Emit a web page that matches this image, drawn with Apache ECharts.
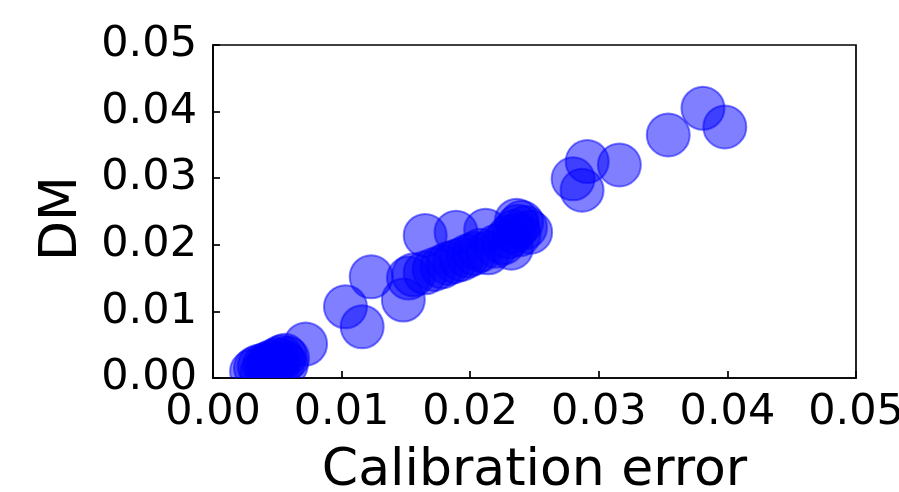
<!DOCTYPE html>
<html>
<head>
<meta charset="utf-8">
<script src="https://cdn.jsdelivr.net/npm/echarts@6/dist/echarts.min.js"></script>
<style>
html,body{margin:0;padding:0;background:#fff;}
#chart{width:899px;height:492px;}
</style>
</head>
<body>
<div id="chart"></div>
<script>
// Calibration error (x) values
const calibrationError = [
  // high group
  0.0381, 0.0398, 0.0354, 0.0316, 0.0291, 0.0280, 0.0287,
  // middle band
  0.0148, 0.0152, 0.0156, 0.0165, 0.0189, 0.0212, 0.0165, 0.0172, 0.0178, 0.0183,
  0.0188, 0.0193, 0.0198, 0.0203, 0.0208, 0.0214, 0.0220, 0.0226, 0.0232, 0.0230,
  0.0234, 0.0237, 0.0240, 0.0236, 0.0243, 0.0247, 0.0238,
  // lower
  0.0123, 0.0103, 0.0116, 0.0072,
  // low cluster
  0.0030, 0.0033, 0.0036, 0.0040, 0.0043, 0.0046, 0.0050, 0.0053, 0.0056, 0.0058,
  0.0055, 0.0050, 0.0045, 0.0038, 0.0042, 0.0048, 0.0057
];
// DM (y) values
const dmValues = [
  0.0405, 0.0377, 0.0365, 0.0320, 0.0325, 0.0299, 0.0282,
  0.0117, 0.0150, 0.0155, 0.0214, 0.0219, 0.0222, 0.0158, 0.0163, 0.0167, 0.0172,
  0.0175, 0.0178, 0.0183, 0.0187, 0.0192, 0.0188, 0.0198, 0.0203, 0.0195, 0.0212,
  0.0220, 0.0228, 0.0234, 0.0237, 0.0226, 0.0219, 0.0215,
  0.0152, 0.0107, 0.0077, 0.0051,
  0.0010, 0.0015, 0.0018, 0.0020, 0.0022, 0.0025, 0.0028, 0.0032, 0.0034, 0.0030,
  0.0025, 0.0018, 0.0012, 0.0008, 0.0016, 0.0022, 0.0020
];
const xTickLabels = ['0.00', '0.01', '0.02', '0.03', '0.04', '0.05'];
const yTickLabels = ['0.00', '0.01', '0.02', '0.03', '0.04', '0.05'];
const xTitle = 'Calibration error';
const yTitle = 'DM';

const points = calibrationError.map((x, i) => [x, dmValues[i]]);
const font = 'DejaVu Sans';
const tickIdx = v => Math.round(v / 0.01);

const chart = echarts.init(document.getElementById('chart'), null, {renderer: 'canvas'});
chart.setOption({
  animation: false,
  backgroundColor: '#fff',
  grid: {
    left: 213, top: 45, width: 643, height: 333,
    containLabel: false, outerBoundsMode: 'none',
    show: true, borderColor: '#000', borderWidth: 1.7, backgroundColor: 'transparent'
  },
  xAxis: {
    type: 'value', min: 0, max: 0.05, interval: 0.01,
    name: xTitle, nameLocation: 'middle', nameGap: 67,
    nameTextStyle: {fontFamily: font, fontSize: 52, color: '#000'},
    axisLine: {show: true, lineStyle: {color: '#000', width: 1.7}},
    axisTick: {show: true, inside: true, length: 7, lineStyle: {color: '#000', width: 1.7}},
    axisLabel: {
      margin: 13, fontFamily: font, fontSize: 43, color: '#000', hideOverlap: false,
      formatter: v => xTickLabels[tickIdx(v)]
    },
    splitLine: {show: false}
  },
  yAxis: {
    type: 'value', min: 0, max: 0.05, interval: 0.01,
    name: yTitle, nameLocation: 'middle', nameGap: 125, nameRotate: 90,
    nameTextStyle: {fontFamily: font, fontSize: 52, color: '#000', padding: [0, 14, 0, 0]},
    axisLine: {show: true, lineStyle: {color: '#000', width: 1.7}},
    axisTick: {show: true, inside: true, length: 7, lineStyle: {color: '#000', width: 1.7}},
    axisLabel: {
      margin: 16, fontFamily: font, fontSize: 43, color: '#000', hideOverlap: false,
      formatter: v => yTickLabels[tickIdx(v)]
    },
    splitLine: {show: false}
  },
  series: [{
    type: 'custom',
    clip: true,
    data: points,
    renderItem: function (params, api) {
      const c = api.coord([api.value(0), api.value(1)]);
      return {
        type: 'circle',
        shape: {cx: c[0], cy: c[1], r: 21.5},
        style: {fill: 'rgba(0,0,255,0.5)', stroke: 'rgba(0,0,255,0.5)', lineWidth: 2}
      };
    }
  }]
});
</script>
</body>
</html>
